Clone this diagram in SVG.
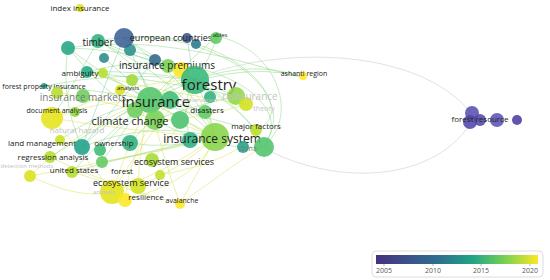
<svg xmlns="http://www.w3.org/2000/svg" width="550" height="280" viewBox="0 0 550 280">
<defs>
<linearGradient id="vir" x1="0" x2="1" y1="0" y2="0">
<stop offset="0" stop-color="#46307e"/>
<stop offset="0.2" stop-color="#3b528b"/>
<stop offset="0.4" stop-color="#2c728e"/>
<stop offset="0.6" stop-color="#21a585"/>
<stop offset="0.8" stop-color="#7ad151"/>
<stop offset="1" stop-color="#fde725"/>
</linearGradient>
<style>
text{font-family:"Open Sans","Liberation Sans",sans-serif;fill:#222;text-anchor:middle}
.f{fill:#c4c4c4}
.g{fill:#7a7a7a}
.e path{fill:none;stroke-width:0.8}
.gr{stroke:#86d47f;opacity:0.6}
.ye{stroke:#d6e24a;opacity:0.6}
.tl{stroke:#5fbba0;opacity:0.5}
.lg{stroke:#d3dad3;opacity:0.9;stroke-width:1.2}
.n circle{opacity:0.88}
.lt{font-size:7px;fill:#555}
</style>
</defs>
<rect width="550" height="280" fill="#ffffff"/>
<g id="connectors" class="e">
<path class="lg" d="M205,75 C290,45 420,50 470,112"/>
<path class="lg" d="M262,147 C330,185 430,185 470,124"/>
<path class="gr" d="M98,41 C200,20 310,90 262,147"/>
<path class="gr" d="M124,38 C230,25 305,110 256,130"/>
<path class="gr" d="M217,36 C280,50 300,120 262,147"/>
<path class="gr" d="M68,48 C180,30 290,80 300,76"/>
<path class="gr" d="M87,72 C200,40 300,100 264,147"/>
<path class="gr" d="M195,80 Q250,60 300,76"/>
<path class="gr" d="M150,100 Q230,60 300,76"/>
<path class="gr" d="M98,41 Q150,70 150,100"/>
<path class="gr" d="M124,38 Q160,60 195,80"/>
<path class="gr" d="M68,48 Q110,80 150,100"/>
<path class="gr" d="M68,48 Q150,50 195,80"/>
<path class="gr" d="M217,36 Q190,60 150,100"/>
<path class="gr" d="M217,36 Q210,60 195,80"/>
<path class="gr" d="M87,72 Q120,80 150,100"/>
<path class="gr" d="M87,72 Q140,70 195,80"/>
<path class="gr" d="M44,86 Q100,90 150,100"/>
<path class="gr" d="M44,86 Q120,70 195,80"/>
<path class="gr" d="M98,41 Q180,80 215,137"/>
<path class="gr" d="M124,38 Q200,90 215,137"/>
<path class="gr" d="M68,48 Q120,110 155,120"/>
<path class="gr" d="M68,48 Q60,100 82,147"/>
<path class="gr" d="M98,41 Q70,90 52,118"/>
<path class="gr" d="M150,100 Q180,120 215,137"/>
<path class="gr" d="M195,80 Q210,110 215,137"/>
<path class="gr" d="M195,80 Q240,110 256,130"/>
<path class="gr" d="M150,100 Q210,120 256,130"/>
<path class="gr" d="M155,120 Q210,150 262,147"/>
<path class="gr" d="M195,80 Q250,110 262,147"/>
<path class="gr" d="M236,96 Q180,110 155,120"/>
<path class="gr" d="M236,96 Q160,80 87,72"/>
<path class="gr" d="M236,96 Q150,60 98,41"/>
<path class="gr" d="M82,147 Q120,110 150,100"/>
<path class="gr" d="M82,147 Q150,120 215,137"/>
<path class="gr" d="M60,140 Q100,110 150,100"/>
<path class="gr" d="M50,157 Q110,120 150,100"/>
<path class="gr" d="M72,172 Q110,130 150,100"/>
<path class="gr" d="M72,172 Q150,150 215,137"/>
<path class="gr" d="M130,143 Q170,150 215,137"/>
<path class="gr" d="M130,143 Q160,110 195,80"/>
<path class="gr" d="M100,150 Q160,80 195,80"/>
<path class="gr" d="M102,162 Q130,120 150,100"/>
<path class="gr" d="M102,162 Q170,150 215,137"/>
<path class="gr" d="M190,140 Q180,100 195,80"/>
<path class="gr" d="M170,100 Q200,120 215,137"/>
<path class="gr" d="M205,112 Q170,100 150,100"/>
<path class="tl" d="M124,38 Q110,70 82,147"/>
<path class="tl" d="M155,60 Q120,100 82,147"/>
<path class="tl" d="M104,58 Q130,80 150,100"/>
<path class="tl" d="M130,50 Q170,60 195,80"/>
<path class="tl" d="M124,38 Q150,90 155,120"/>
<path class="tl" d="M187,38 Q190,60 195,80"/>
<path class="ye" d="M52,118 Q100,100 150,100"/>
<path class="ye" d="M52,118 Q120,130 215,137"/>
<path class="ye" d="M52,118 Q130,80 195,80"/>
<path class="ye" d="M30,176 Q90,120 150,100"/>
<path class="ye" d="M30,176 Q120,160 215,137"/>
<path class="ye" d="M112,192 Q130,140 150,100"/>
<path class="ye" d="M112,192 Q170,170 215,137"/>
<path class="ye" d="M112,192 Q150,130 195,80"/>
<path class="ye" d="M138,186 Q180,170 215,137"/>
<path class="ye" d="M138,186 Q140,140 150,100"/>
<path class="ye" d="M125,200 Q200,180 215,137"/>
<path class="ye" d="M180,204 Q200,170 215,137"/>
<path class="ye" d="M180,204 Q160,150 150,100"/>
<path class="ye" d="M180,204 Q240,160 262,147"/>
<path class="ye" d="M160,175 Q240,160 256,130"/>
<path class="ye" d="M152,160 Q190,120 195,80"/>
<path class="ye" d="M179,70 Q160,90 155,120"/>
<path class="ye" d="M179,70 Q210,110 215,137"/>
<path class="ye" d="M120,90 Q170,110 215,137"/>
<path class="ye" d="M246,104 Q200,120 155,120"/>
<path class="ye" d="M246,104 Q150,90 87,72"/>
<path class="ye" d="M57,92 Q150,110 215,137"/>
<path class="ye" d="M72,172 Q130,190 180,204"/>
<path class="ye" d="M50,157 Q120,190 138,186"/>
<path class="ye" d="M30,176 Q80,200 112,192"/>
<path class="ye" d="M125,200 Q130,150 155,120"/>
<path class="ye" d="M112,192 Q80,150 52,118"/>
</g>
<g id="nodes" class="n">
<g id="n-index-insurance"><circle cx="80" cy="8" r="4" fill="#e2e418"/><text x="80" y="11" font-size="8">index insurance</text></g>
<g id="n-c1"><circle cx="68" cy="48" r="7" fill="#25a584"/></g>
<g id="n-c2"><circle cx="104" cy="58" r="5" fill="#2c8a8d"/></g>
<g id="n-c3"><circle cx="130" cy="50" r="6" fill="#2a8f8c"/></g>
<g id="n-c4"><circle cx="155" cy="60" r="6" fill="#31688e"/></g>
<g id="n-c5"><circle cx="196" cy="44" r="5" fill="#2a788e"/></g>
<g id="n-timber"><circle cx="98" cy="41" r="7" fill="#2db27d"/><text x="98" y="46" font-size="10">timber</text></g>
<g id="n-european-countries"><circle cx="124" cy="38" r="10" fill="#3b6095"/><circle cx="187" cy="38" r="5" fill="#3b528b"/><text x="171" y="41" font-size="9">european countries</text></g>
<g id="n-ables"><circle cx="216" cy="38" r="6" fill="#5ec962"/><text x="220" y="37" font-size="6">ables</text></g>
<g id="n-ambiguity"><circle cx="87" cy="72" r="6" fill="#22a884"/><circle cx="103" cy="73" r="5" fill="#b5de2b"/><text x="80" y="76" font-size="8">ambiguity</text></g>
<g id="n-forest-property-insurance"><circle cx="44" cy="86" r="3" fill="#1f9e89"/><text x="44" y="89" font-size="7">forest property insurance</text></g>
<g id="n-insurance-markets"><circle cx="57" cy="93" r="6" fill="#b5de2b"/><circle cx="83" cy="96" r="7" fill="#6ccd5a"/><text class="g" x="83" y="101" font-size="10">insurance markets</text></g>
<g id="n-analysis"><circle cx="120" cy="90" r="5" fill="#d8e219"/><circle cx="132" cy="80" r="6" fill="#a0da39"/><text x="128" y="90" font-size="6">analysis</text></g>
<g id="n-insurance-premiums"><circle cx="168" cy="66" r="7" fill="#7ad151"/><circle cx="181" cy="70" r="8" fill="#fde725"/><text x="167" y="69" font-size="10">insurance premiums</text></g>
<g id="n-forestry"><circle cx="195" cy="80" r="14" fill="#35b779"/><text x="209" y="90" font-size="15">forestry</text></g>
<g id="n-insurance"><circle cx="150" cy="100" r="13" fill="#52c569"/><circle cx="170" cy="100" r="9" fill="#3dbc74"/><circle cx="135" cy="110" r="8" fill="#6ccd5a"/><text x="156" y="107" font-size="15">insurance</text></g>
<g id="n-document-analysis"><circle cx="52" cy="118" r="11" fill="#e5e419"/><circle cx="75" cy="112" r="5" fill="#8fd744"/><text x="57" y="113" font-size="7">document analysis</text></g>
<g id="n-natural-hazard"><text class="f" x="77" y="133" font-size="8">natural hazard</text></g>
<g id="n-conservation"><circle cx="210" cy="97" r="6" fill="#2db27d"/><text class="f" x="199" y="102" font-size="6">conservation</text></g>
<g id="n-disasters"><circle cx="205" cy="112" r="7" fill="#5ec962"/><text x="207" y="113" font-size="8">disasters</text></g>
<g id="n-reinsurance"><circle cx="236" cy="96" r="9" fill="#8fd744"/><circle cx="246" cy="104" r="7" fill="#d0e11c"/><text class="f" x="250" y="100" font-size="10">reinsurance</text></g>
<g id="n-theory"><text class="f" x="264" y="111" font-size="7">theory</text></g>
<g id="n-climate-change"><circle cx="155" cy="120" r="10" fill="#75d054"/><circle cx="180" cy="120" r="9" fill="#4ac16d"/><text x="130" y="125" font-size="11">climate change</text></g>
<g id="n-major-factors"><circle cx="256" cy="130" r="6" fill="#b8de29"/><text x="256" y="129" font-size="8">major factors</text></g>
<g id="n-insurance-system"><circle cx="190" cy="140" r="8" fill="#29af7f"/><circle cx="215" cy="137" r="14" fill="#86d549"/><text x="212" y="143" font-size="12">insurance system</text></g>
<g id="n-china"><circle cx="243" cy="147" r="6" fill="#20a386"/><circle cx="264" cy="147" r="10" fill="#50c46a"/><text class="g" x="248" y="151" font-size="7">china</text></g>
<g id="n-ashanti-region"><circle cx="303" cy="76" r="4" fill="#fde725"/><text x="304" y="76" font-size="7">ashanti region</text></g>
<g id="n-land-management"><circle cx="60" cy="140" r="5" fill="#cae11f"/><text x="42" y="146" font-size="8">land management</text></g>
<g id="n-ownership"><circle cx="82" cy="147" r="8" fill="#1fa188"/><circle cx="100" cy="150" r="6" fill="#3bbb75"/><circle cx="130" cy="143" r="8" fill="#2db27d"/><text x="114" y="146" font-size="8">ownership</text></g>
<g id="n-regression-analysis"><circle cx="50" cy="157" r="6" fill="#b5de2b"/><text x="53" y="160" font-size="8">regression analysis</text></g>
<g id="n-detection-methods"><circle cx="30" cy="176" r="6" fill="#d8e219"/><text class="f" x="27" y="168" font-size="6">detection methods</text></g>
<g id="n-united-states"><circle cx="72" cy="172" r="6" fill="#b5de2b"/><text x="74" y="173" font-size="8">united states</text></g>
<g id="n-forest"><circle cx="102" cy="162" r="6" fill="#60ca60"/><text x="122" y="174" font-size="8">forest</text></g>
<g id="n-ecosystem-services"><circle cx="152" cy="160" r="7" fill="#a8db34"/><text x="174" y="165" font-size="9">ecosystem services</text></g>
<g id="n-ecosystem-service"><circle cx="112" cy="192" r="12" fill="#e2e418"/><circle cx="138" cy="186" r="8" fill="#d0e11c"/><circle cx="160" cy="175" r="5" fill="#c2df23"/><text x="131" y="186" font-size="9">ecosystem service</text></g>
<g id="n-animals"><text class="f" x="104" y="194" font-size="6">animals</text></g>
<g id="n-resilience"><circle cx="125" cy="200" r="7" fill="#fde725"/><text x="146" y="200" font-size="8">resilience</text></g>
<g id="n-avalanche"><circle cx="180" cy="204" r="5" fill="#fde725"/><text x="182" y="203" font-size="7">avalanche</text></g>
<g id="n-forest-resource"><circle cx="472" cy="113" r="7" fill="#5a4fb0"/><circle cx="470" cy="122" r="7" fill="#4e47a8"/><circle cx="480" cy="120" r="6" fill="#5148aa"/><circle cx="497" cy="120" r="7" fill="#5c53b5"/><circle cx="517" cy="120" r="5" fill="#4c3fa0"/><text x="480" y="122" font-size="8">forest resource</text></g>
</g>
<g id="legend">
<rect x="372" y="251" width="171" height="26" rx="4" fill="#fff" stroke="#ddd"/>
<rect x="376" y="255" width="162" height="9" fill="url(#vir)"/>
<path d="M384,264v2M433,264v2M481,264v2M530,264v2" stroke="#888" stroke-width="0.6"/>
<text class="lt" x="384" y="273">2005</text>
<text class="lt" x="433" y="273">2010</text>
<text class="lt" x="481" y="273">2015</text>
<text class="lt" x="530" y="273">2020</text>
</g>
</svg>
